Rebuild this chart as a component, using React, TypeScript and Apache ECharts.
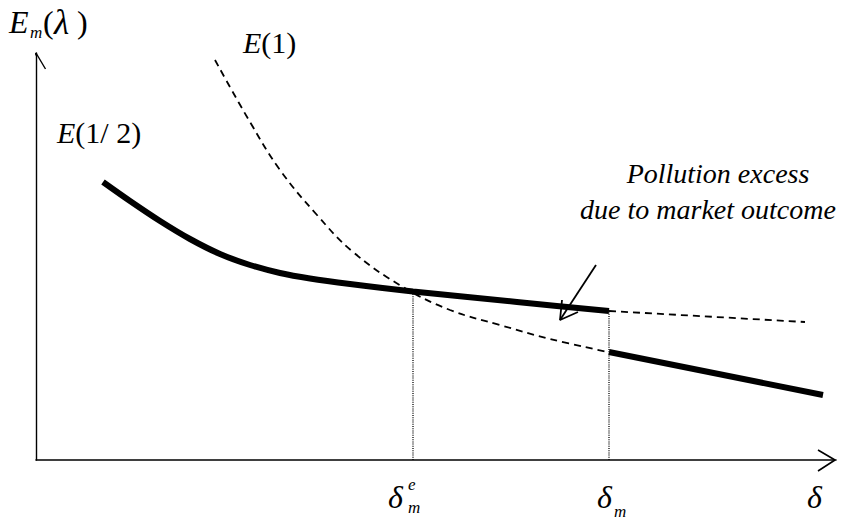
import React, { useEffect, useRef } from "react";
import * as echarts from "echarts";

const FONT = "'Liberation Serif', 'Times New Roman', serif";

// Schematic units: x = δ, y = E_m(λ)
const X_MAX = 80;
const Y_MAX = 40.7;

// E(1/2): thick solid part up to δm
const halfSolid: [number, number][] = [
  [6.7, 27.8],
  [9.4, 25.9],
  [12.4, 23.9],
  [15.4, 22.1],
  [18.4, 20.6],
  [21.4, 19.5],
  [24.4, 18.7],
  [27.4, 18.15],
  [31.4, 17.6],
  [37.7, 16.85],
  [48.1, 15.8],
  [57.3, 14.9],
];
// E(1/2): dashed continuation beyond δm
const halfDashed: [number, number][] = [
  [57.3, 14.9],
  [76.9, 13.8],
];
// E(1): dashed part up to δm
const oneDashed: [number, number][] = [
  [17.9, 40.0],
  [21.4, 33.8],
  [24.4, 29.0],
  [28.1, 24.5],
  [31.7, 20.8],
  [36.7, 17.3],
  [41.4, 15.0],
  [46.4, 13.5],
  [51.4, 12.1],
  [57.2, 10.8],
];
// E(1): thick solid continuation beyond δm
const oneSolid: [number, number][] = [
  [57.3, 10.8],
  [78.7, 6.5],
];
// vertical markers δ_m^e and δ_m
const deltaE: [number, number][] = [
  [37.7, 0],
  [37.7, 16.85],
];
const deltaM: [number, number][] = [
  [57.3, 0],
  [57.3, 14.9],
];
// annotation arrow
const annotLine: [number, number][] = [
  [56.0, 19.5],
  [52.4, 14.0],
];
const annotHead: [number, number][] = [
  [52.6, 16.0],
  [52.4, 14.0],
  [54.2, 14.8],
];
// axis arrow heads
const xArrow: [number, number][] = [
  [78.2, 1.0],
  [79.9, 0],
  [78.2, -1.1],
];
const yArrow: [number, number][] = [
  [-0.9, 39.1],
  [0, 40.7],
  [0.95, 39.1],
];

function lineSeries(data: [number, number][], width: number, type: any, smooth: number | boolean = false) {
  return {
    type: "line",
    data,
    smooth,
    symbol: "none",
    showSymbol: false,
    clip: false,
    silent: true,
    lineStyle: { color: "#000", width, type, cap: "butt" },
  };
}

function txt(x: number, y: number, text: string, size: number, italic: boolean, align: string = "left", rich?: any) {
  return {
    type: "text",
    x,
    y,
    silent: true,
    style: {
      x: 0,
      y: 0,
      text,
      fill: "#000",
      fontFamily: FONT,
      fontSize: size,
      fontStyle: italic ? "italic" : "normal",
      align,
      textAlign: align,
      verticalAlign: "middle",
      textVerticalAlign: "middle",
      rich,
    },
  };
}

function richEParen(size: number) {
  return {
    i: { fontFamily: FONT, fontSize: size, fontStyle: "italic", fill: "#000" },
    n: { fontFamily: FONT, fontSize: size, fontStyle: "normal", fill: "#000" },
  };
}

export default function App() {
  const ref = useRef<HTMLDivElement>(null);

  useEffect(() => {
    if (!ref.current) return;
    const chart = echarts.init(ref.current, undefined, { renderer: "svg" });
    chart.setOption({
      animation: false,
      backgroundColor: "#fff",
      grid: { left: 36, top: 53, right: 22, bottom: 69, containLabel: false },
      xAxis: {
        type: "value",
        min: 0,
        max: X_MAX,
        axisLine: { show: true, onZero: false, lineStyle: { color: "#000", width: 1.6 } },
        axisTick: { show: false },
        axisLabel: { show: false },
        splitLine: { show: false },
      },
      yAxis: {
        type: "value",
        min: 0,
        max: Y_MAX,
        axisLine: { show: true, onZero: false, lineStyle: { color: "#000", width: 1.4 } },
        axisTick: { show: false },
        axisLabel: { show: false },
        splitLine: { show: false },
      },
      series: [
        lineSeries(deltaE, 1.3, [1, 1.2]),
        lineSeries(deltaM, 1.3, [1, 1.2]),
        lineSeries(oneDashed, 1.8, [7, 5], 0.4),
        lineSeries(halfDashed, 1.8, [7, 5]),
        lineSeries(halfSolid, 6, "solid", 0.3),
        lineSeries(oneSolid, 6, "solid"),
        lineSeries(annotLine, 1.8, "solid"),
        lineSeries(annotHead, 1.8, "solid"),
        lineSeries(xArrow, 1.6, "solid"),
        lineSeries(yArrow, 1.4, "solid"),
      ],
      graphic: [
        txt(9, 22, "E", 32, true),
        txt(30, 32, "m", 17, true),
        txt(43, 22, "(", 32, false),
        txt(54, 22, "λ", 35, true),
        txt(77, 22, ")", 32, false),
        txt(243, 42, "{i|E}{n|(1)}", 30, false, "left", richEParen(30)),
        txt(57, 132, "{i|E}{n|(1/ 2)}", 30, false, "left", richEParen(30)),
        txt(718, 173.5, "Pollution excess", 28, true, "center"),
        txt(708, 209.5, "due to market outcome", 28, true, "center"),
        txt(388, 497, "δ", 32, true),
        txt(408, 484, "e", 17, true),
        txt(408, 507, "m", 17, true),
        txt(597, 497, "δ", 32, true),
        txt(614, 511, "m", 17, true),
        txt(807, 497, "δ", 32, true),
      ],
    });
    return () => chart.dispose();
  }, []);

  return (
    <div
      ref={ref}
      style={{ position: "absolute", left: 0, top: 0, width: 858, height: 529, background: "#fff" }}
    />
  );
}
